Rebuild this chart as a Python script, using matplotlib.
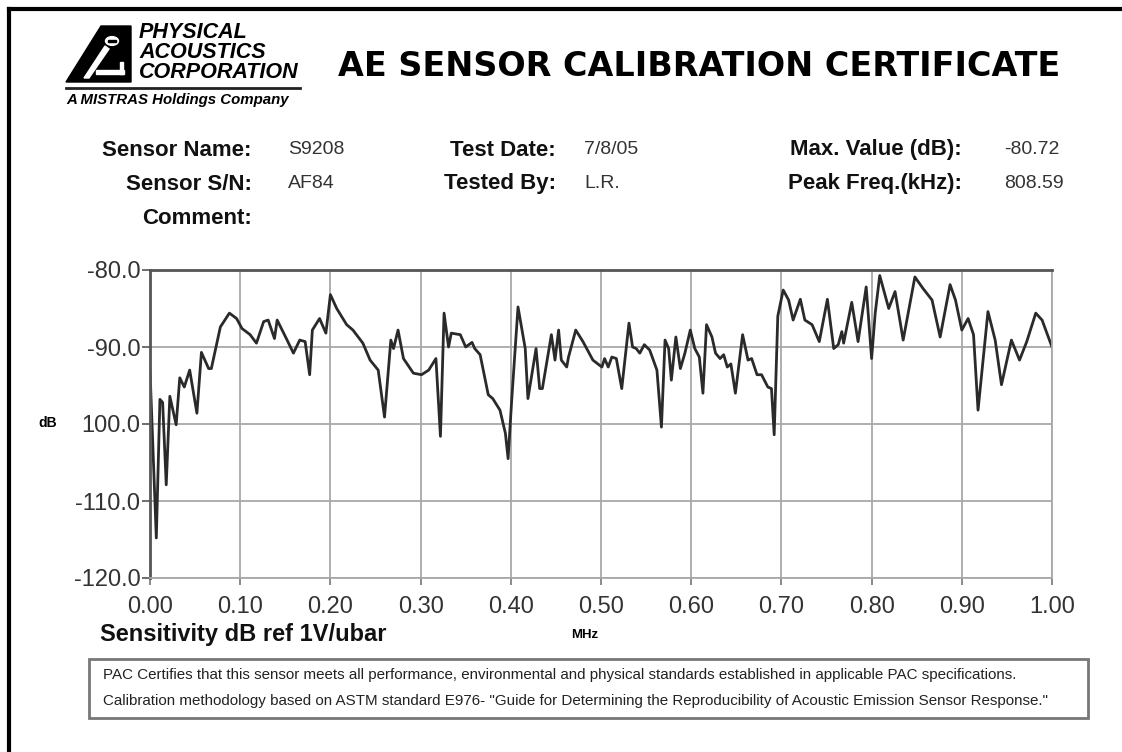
import numpy as np
import matplotlib.pyplot as plt
from matplotlib.patches import Polygon, Rectangle, Circle
from matplotlib.lines import Line2D

W, H = 1122, 752

# frequency (MHz) and sensitivity (dB)
freq = [0.000, 0.007, 0.011, 0.014, 0.018, 0.022, 0.029, 0.033, 0.038, 0.044,
        0.052, 0.057, 0.065, 0.068, 0.078, 0.088, 0.096, 0.102, 0.111, 0.118,
        0.126, 0.131, 0.138, 0.141, 0.152, 0.159, 0.166, 0.172, 0.177, 0.180,
        0.188, 0.195, 0.200, 0.207, 0.218, 0.225, 0.236, 0.244, 0.253, 0.260,
        0.267, 0.270, 0.275, 0.281, 0.292, 0.301, 0.309, 0.317, 0.322, 0.326,
        0.331, 0.334, 0.344, 0.350, 0.357, 0.360, 0.366, 0.375, 0.380, 0.388,
        0.394, 0.397, 0.401, 0.408, 0.416, 0.419, 0.428, 0.432, 0.435, 0.445,
        0.449, 0.453, 0.456, 0.462, 0.464, 0.472, 0.480, 0.491, 0.501, 0.504,
        0.508, 0.512, 0.517, 0.523, 0.531, 0.535, 0.539, 0.543, 0.548, 0.554,
        0.562, 0.567, 0.571, 0.575, 0.578, 0.583, 0.588, 0.593, 0.599, 0.604,
        0.609, 0.613, 0.617, 0.623, 0.627, 0.632, 0.636, 0.640, 0.644, 0.649,
        0.657, 0.663, 0.667, 0.673, 0.678, 0.685, 0.689, 0.692, 0.696, 0.702,
        0.708, 0.713, 0.721, 0.726, 0.734, 0.742, 0.751, 0.758, 0.763, 0.767,
        0.769, 0.778, 0.785, 0.794, 0.800, 0.804, 0.809, 0.819, 0.826, 0.835,
        0.848, 0.857, 0.867, 0.876, 0.887, 0.893, 0.900, 0.907, 0.913, 0.918,
        0.929, 0.937, 0.944, 0.955, 0.964, 0.972, 0.982, 0.989, 1.000]
db = [-93.0, -114.8, -96.8, -97.2, -107.9, -96.4, -100.1, -94.0, -95.2, -93.0,
      -98.6, -90.7, -92.8, -92.8, -87.4, -85.6, -86.3, -87.6, -88.4, -89.5,
      -86.7, -86.5, -88.9, -86.5, -89.1, -90.8, -89.1, -89.3, -93.6, -87.8,
      -86.3, -88.2, -83.2, -85.0, -87.1, -87.8, -89.5, -91.7, -93.0, -99.1,
      -89.1, -90.2, -87.8, -91.5, -93.4, -93.6, -93.0, -91.5, -101.6, -85.6,
      -90.0, -88.2, -88.4, -90.0, -89.4, -90.2, -91.0, -96.2, -96.7, -98.2,
      -101.2, -104.5, -96.9, -84.8, -90.2, -96.7, -90.2, -95.4, -95.4, -88.4,
      -91.7, -87.8, -91.7, -92.6, -91.3, -87.8, -89.3, -91.7, -92.6, -91.5,
      -92.6, -91.3, -91.5, -95.4, -86.9, -90.0, -90.2, -90.8, -89.7, -90.4,
      -93.0, -100.4, -89.1, -90.2, -94.3, -88.7, -92.8, -90.8, -87.8, -90.2,
      -91.3, -96.0, -87.1, -88.7, -90.8, -91.5, -91.0, -92.6, -92.2, -96.0,
      -88.4, -91.7, -91.5, -93.6, -93.6, -95.2, -95.4, -101.4, -86.0, -82.6,
      -83.9, -86.5, -83.8, -86.5, -87.1, -89.3, -83.8, -90.2, -89.7, -88.0,
      -89.5, -84.2, -89.3, -82.2, -91.5, -85.6, -80.72, -85.0, -82.8, -89.1,
      -80.9, -82.4, -83.9, -88.7, -81.9, -83.9, -87.8, -86.3, -88.4, -98.2,
      -85.4, -89.1, -94.9, -89.1, -91.7, -89.3, -85.6, -86.5, -90.0]

x_ticks = [0.0, 0.1, 0.2, 0.3, 0.4, 0.5, 0.6, 0.7, 0.8, 0.9, 1.0]
y_ticks = [-120, -110, -100, -90, -80]
y_labels = ['-120.0', '-110.0', '100.0', '-90.0', '-80.0']

fields_left = [('Sensor Name:', 'S9208'), ('Sensor S/N:', 'AF84'), ('Comment:', '')]
fields_mid = [('Test Date:', '7/8/05'), ('Tested By:', 'L.R.')]
fields_right = [('Max. Value (dB):', '-80.72'), ('Peak Freq.(kHz):', '808.59')]

SANS = ['Liberation Sans', 'DejaVu Sans']
WIDE = ['DejaVu Sans']

fig = plt.figure(figsize=(W / 100, H / 100), dpi=100)


def fx(x):
    return x / W


def fy(y):
    return 1 - y / H


# page border (top and left edges only)
fig.add_artist(Line2D([fx(9), fx(1122)], [fy(9), fy(9)], color='black', lw=3))
fig.add_artist(Line2D([fx(9), fx(9)], [fy(9), fy(752)], color='black', lw=3))

# logo emblem
fig.add_artist(Polygon([(fx(66), fy(82)), (fx(101), fy(26)), (fx(131), fy(26)),
                        (fx(131), fy(82))], closed=True, color='black',
                       transform=fig.transFigure))
fig.add_artist(Polygon([(fx(84), fy(78)), (fx(105), fy(46)), (fx(109), fy(49)),
                        (fx(89), fy(78))], closed=True, color='white',
                       transform=fig.transFigure))
fig.add_artist(Rectangle((fx(96), fy(74)), fx(28), 4 / H, color='white',
                         transform=fig.transFigure))
fig.add_artist(Rectangle((fx(120), fy(74)), fx(3), 12 / H, color='white',
                         transform=fig.transFigure))
fig.add_artist(Circle((fx(112), fy(41)), 6.5 / W, color='white',
                      transform=fig.transFigure))
fig.add_artist(Rectangle((fx(108), fy(42)), fx(8), 2 / H, color='black',
                         transform=fig.transFigure))
for i, word in enumerate(['PHYSICAL', 'ACOUSTICS', 'CORPORATION']):
    fig.text(fx(139), fy(33 + 20 * i), word, family=SANS, fontsize=15.5,
             fontweight='bold', fontstyle='italic', va='center', ha='left')
fig.add_artist(Line2D([fx(66), fx(300)], [fy(88), fy(88)], color='#222', lw=2))
fig.text(fx(66), fy(100), 'A MISTRAS Holdings Company', family=SANS, fontsize=10.8,
         fontweight='bold', fontstyle='italic', va='center', ha='left')

# title
fig.text(fx(1060), fy(67), 'AE SENSOR CALIBRATION CERTIFICATE', family=WIDE,
         fontsize=24, fontweight='bold', ha='right', va='center')

# header fields
rows_y = [150, 184, 218]
for (lab, val), y in zip(fields_left, rows_y):
    fig.text(fx(252), fy(y), lab, family=SANS, fontsize=16, fontweight='bold',
             ha='right', va='center', color='#111')
    fig.text(fx(288), fy(y), val, family=SANS, fontsize=14,
             ha='left', va='center', color='#333')
for (lab, val), y in zip(fields_mid, rows_y):
    fig.text(fx(556), fy(y), lab, family=SANS, fontsize=16, fontweight='bold',
             ha='right', va='center', color='#111')
    fig.text(fx(584), fy(y), val, family=SANS, fontsize=14,
             ha='left', va='center', color='#333')
for (lab, val), y in zip(fields_right, rows_y):
    fig.text(fx(962), fy(y), lab, family=SANS, fontsize=16, fontweight='bold',
             ha='right', va='center', color='#111')
    fig.text(fx(1004), fy(y), val, family=SANS, fontsize=14,
             ha='left', va='center', color='#333')

# chart
ax = fig.add_axes([fx(150), fy(578), (1052 - 150) / W, (578 - 270) / H])
ax.plot(freq, db, color='#2a2a2a', lw=2, solid_joinstyle='round')
ax.set_xlim(0, 1.0)
ax.set_ylim(-120, -80)
ax.set_xticks(x_ticks)
ax.set_xticklabels(['%.2f' % t for t in x_ticks])
ax.set_yticks(y_ticks)
ax.set_yticklabels(y_labels)
ax.grid(True, color='#a8a8a8', lw=1.3)
for lab in ax.get_xticklabels() + ax.get_yticklabels():
    lab.set_family(SANS)
    lab.set_fontsize(17)
    lab.set_color('#333')
ax.tick_params(axis='y', length=6, width=1.2, color='#555', pad=1)
ax.tick_params(axis='x', length=5, width=1.2, color='#777', pad=8)
ax.spines['left'].set_color('#555')
ax.spines['left'].set_linewidth(2)
ax.spines['top'].set_color('#555')
ax.spines['top'].set_linewidth(2)
ax.spines['right'].set_color('#a8a8a8')
ax.spines['right'].set_linewidth(1.3)
ax.spines['bottom'].set_color('#a8a8a8')
ax.spines['bottom'].set_linewidth(1.3)

fig.text(fx(38), fy(423), 'dB', family=SANS, fontsize=10, fontweight='bold',
         ha='left', va='center')
fig.text(fx(100), fy(634), 'Sensitivity dB ref 1V/ubar', family=SANS, fontsize=17,
         fontweight='bold', ha='left', va='center', color='#111')
fig.text(fx(585), fy(635), 'MHz', family=SANS, fontsize=9.5, fontweight='bold',
         ha='center', va='center')

# footer box
fig.add_artist(Rectangle((fx(89), fy(718)), (1088 - 89) / W, (718 - 659) / H,
                         fill=False, edgecolor='#777', lw=2,
                         transform=fig.transFigure))
fig.text(fx(103), fy(675),
         'PAC Certifies that this sensor meets all performance, environmental and '
         'physical standards established in applicable PAC specifications.',
         family=SANS, fontsize=10.9, ha='left', va='center', color='#222')
fig.text(fx(103), fy(701),
         'Calibration methodology based on ASTM standard E976- "Guide for Determining '
         'the Reproducibility of Acoustic Emission Sensor Response."',
         family=SANS, fontsize=10.9, ha='left', va='center', color='#222')

fig.savefig('out.png', dpi=100)
